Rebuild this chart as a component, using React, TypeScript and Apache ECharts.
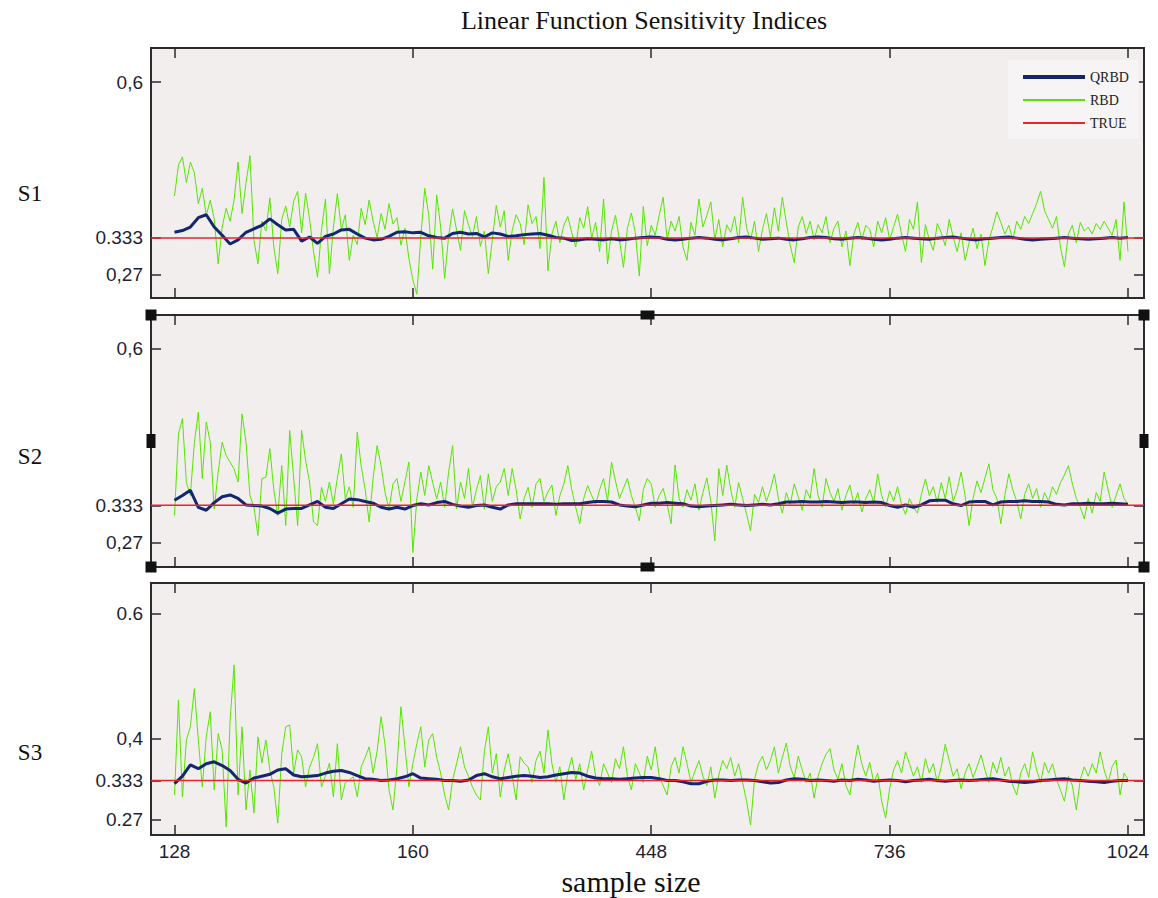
import React, { useEffect, useRef } from 'react';
import * as echarts from 'echarts';

// ---------- data ----------
const xTickValues = [0, 60, 120, 180, 240];
const xTickLabels = ['128', '160', '448', '736', '1024'];
const TRUE_VALUE = 0.3333;

const s1TickValues = [0.27, 0.3333, 0.6];
const s1TickLabels = ['0,27', '0.333', '0,6'];
const s2TickValues = [0.27, 0.3333, 0.6];
const s2TickLabels = ['0,27', '0.333', '0,6'];
const s3TickValues = [0.27, 0.3333, 0.4, 0.6];
const s3TickLabels = ['0.27', '0.333', '0,4', '0.6'];

const panelNames = ['S1', 'S2', 'S3'];

// RBD (green) — one value per step
const s1RBD = [
  0.405, 0.458, 0.472, 0.428, 0.463, 0.445, 0.392, 0.418, 0.372, 0.398,
  0.366, 0.289, 0.352, 0.384, 0.362, 0.398, 0.463, 0.375, 0.427, 0.474,
  0.33, 0.289, 0.362, 0.345, 0.402, 0.318, 0.272, 0.365, 0.388, 0.352,
  0.396, 0.413, 0.342, 0.41, 0.366, 0.31, 0.266, 0.346, 0.4, 0.272,
  0.352, 0.409, 0.348, 0.373, 0.295, 0.338, 0.322, 0.384, 0.356, 0.398,
  0.362, 0.334, 0.375, 0.348, 0.392, 0.357, 0.368, 0.321, 0.35, 0.298,
  0.262, 0.237, 0.335, 0.418, 0.372, 0.28, 0.407, 0.352, 0.264, 0.336,
  0.383, 0.347, 0.312, 0.38, 0.356, 0.336, 0.37, 0.319, 0.345, 0.272,
  0.33, 0.389, 0.352, 0.38, 0.295, 0.346, 0.373, 0.358, 0.322, 0.39,
  0.358, 0.37, 0.315, 0.437, 0.277, 0.34, 0.362, 0.325, 0.355, 0.37,
  0.342, 0.318, 0.368, 0.35, 0.387, 0.333, 0.36, 0.31, 0.4, 0.289,
  0.345, 0.372, 0.33, 0.283, 0.35, 0.376, 0.342, 0.268, 0.387, 0.32,
  0.355, 0.338, 0.372, 0.403, 0.33, 0.362, 0.345, 0.37, 0.318, 0.295,
  0.36, 0.338, 0.4, 0.352, 0.372, 0.395, 0.33, 0.365, 0.318, 0.356,
  0.343, 0.37, 0.325, 0.403, 0.35, 0.33, 0.362, 0.31, 0.348, 0.375,
  0.335, 0.385, 0.345, 0.403, 0.36, 0.32, 0.291, 0.352, 0.37, 0.341,
  0.362, 0.33, 0.356, 0.342, 0.37, 0.325, 0.35, 0.362, 0.318, 0.345,
  0.286, 0.34, 0.36, 0.33, 0.355, 0.348, 0.318, 0.362, 0.342, 0.368,
  0.33, 0.352, 0.374, 0.34, 0.31, 0.365, 0.348, 0.395, 0.291, 0.356,
  0.33, 0.312, 0.358, 0.342, 0.32, 0.365, 0.335, 0.31, 0.342, 0.295,
  0.325, 0.35, 0.315, 0.34, 0.286, 0.33, 0.352, 0.378, 0.36, 0.34,
  0.355, 0.33, 0.362, 0.348, 0.37, 0.358, 0.375, 0.392, 0.413, 0.38,
  0.365, 0.35, 0.37, 0.318, 0.284, 0.34, 0.355, 0.325, 0.36, 0.345,
  0.352, 0.34, 0.358, 0.348, 0.362, 0.35, 0.338, 0.365, 0.295, 0.395,
  0.31,
];

const s2RBD = [
  0.316, 0.455, 0.481, 0.372, 0.35, 0.44, 0.492, 0.379, 0.475, 0.441,
  0.327, 0.39, 0.441, 0.418, 0.407, 0.395, 0.373, 0.489, 0.441, 0.35,
  0.33, 0.282, 0.379, 0.381, 0.43, 0.36, 0.316, 0.401, 0.299, 0.461,
  0.38, 0.299, 0.461, 0.41, 0.373, 0.305, 0.299, 0.364, 0.34, 0.373,
  0.335, 0.38, 0.421, 0.344, 0.365, 0.33, 0.458, 0.4, 0.36, 0.305,
  0.38, 0.435, 0.401, 0.355, 0.327, 0.37, 0.379, 0.34, 0.373, 0.407,
  0.253, 0.344, 0.39, 0.35, 0.401, 0.372, 0.344, 0.373, 0.33, 0.39,
  0.435, 0.327, 0.373, 0.345, 0.396, 0.33, 0.36, 0.384, 0.327, 0.387,
  0.34, 0.365, 0.373, 0.396, 0.35, 0.396, 0.36, 0.31, 0.345, 0.364,
  0.33, 0.37, 0.379, 0.34, 0.356, 0.368, 0.316, 0.35, 0.37, 0.401,
  0.36, 0.33, 0.302, 0.345, 0.367, 0.35, 0.335, 0.36, 0.379, 0.34,
  0.407, 0.375, 0.345, 0.362, 0.379, 0.35, 0.33, 0.307, 0.36, 0.379,
  0.37, 0.33, 0.35, 0.362, 0.335, 0.302, 0.402, 0.345, 0.33, 0.36,
  0.342, 0.37, 0.325, 0.355, 0.38, 0.34, 0.273, 0.396, 0.35, 0.402,
  0.36, 0.33, 0.372, 0.345, 0.318, 0.29, 0.352, 0.338, 0.365, 0.34,
  0.36, 0.387, 0.345, 0.32, 0.355, 0.335, 0.37, 0.348, 0.325, 0.36,
  0.345, 0.396, 0.35, 0.33, 0.379, 0.355, 0.34, 0.362, 0.325, 0.35,
  0.368, 0.335, 0.355, 0.322, 0.345, 0.36, 0.338, 0.387, 0.35, 0.33,
  0.358, 0.34, 0.365, 0.335, 0.318, 0.345, 0.33, 0.32, 0.352, 0.378,
  0.35, 0.365, 0.338, 0.372, 0.345, 0.382, 0.34, 0.36, 0.39, 0.35,
  0.299, 0.345, 0.375, 0.355, 0.38, 0.404, 0.36, 0.345, 0.302, 0.35,
  0.387, 0.36, 0.34, 0.31, 0.352, 0.37, 0.345, 0.362, 0.33, 0.355,
  0.34, 0.365, 0.352, 0.372, 0.385, 0.401, 0.37, 0.345, 0.33, 0.31,
  0.345, 0.32, 0.355, 0.34, 0.39, 0.36, 0.33, 0.35, 0.37, 0.345,
  0.335,
];

const s3RBD = [
  0.31, 0.462, 0.307, 0.398, 0.419, 0.48, 0.398, 0.323, 0.403, 0.443,
  0.318, 0.408, 0.382, 0.259, 0.43, 0.518, 0.31, 0.419, 0.286, 0.35,
  0.281, 0.403, 0.361, 0.398, 0.35, 0.323, 0.265, 0.376, 0.419, 0.422,
  0.345, 0.382, 0.371, 0.323, 0.355, 0.37, 0.392, 0.323, 0.34, 0.361,
  0.307, 0.392, 0.302, 0.33, 0.334, 0.339, 0.307, 0.355, 0.37, 0.387,
  0.345, 0.38, 0.435, 0.39, 0.318, 0.286, 0.355, 0.451, 0.387, 0.323,
  0.36, 0.392, 0.419, 0.355, 0.398, 0.408, 0.37, 0.345, 0.31, 0.286,
  0.334, 0.36, 0.387, 0.355, 0.34, 0.323, 0.31, 0.302, 0.38, 0.419,
  0.345, 0.376, 0.307, 0.35, 0.376, 0.34, 0.302, 0.371, 0.361, 0.355,
  0.33, 0.365, 0.38, 0.345, 0.414, 0.36, 0.33, 0.355, 0.302, 0.345,
  0.37, 0.335, 0.36, 0.318, 0.35, 0.38, 0.34, 0.325, 0.36, 0.345,
  0.33, 0.368, 0.352, 0.387, 0.34, 0.318, 0.36, 0.345, 0.33, 0.372,
  0.35, 0.387, 0.34, 0.325, 0.31, 0.355, 0.37, 0.345, 0.387, 0.36,
  0.33, 0.348, 0.365, 0.34, 0.325, 0.355, 0.305, 0.342, 0.365, 0.352,
  0.37, 0.34, 0.36, 0.33, 0.3, 0.262, 0.335, 0.36, 0.372, 0.35,
  0.365, 0.387, 0.345, 0.37, 0.393, 0.355, 0.338, 0.372, 0.35, 0.33,
  0.345, 0.305, 0.34, 0.36, 0.375, 0.384, 0.35, 0.335, 0.36, 0.325,
  0.31, 0.352, 0.39, 0.36, 0.34, 0.362, 0.33, 0.345, 0.3, 0.273,
  0.32, 0.35, 0.365, 0.345, 0.379, 0.36, 0.34, 0.355, 0.33, 0.368,
  0.345, 0.36, 0.33, 0.355, 0.391, 0.365, 0.34, 0.352, 0.32, 0.345,
  0.36, 0.338, 0.355, 0.374, 0.35, 0.33, 0.362, 0.345, 0.37, 0.34,
  0.355, 0.325, 0.31, 0.345, 0.36, 0.338, 0.379, 0.35, 0.33, 0.362,
  0.345, 0.36, 0.335, 0.318, 0.3, 0.34, 0.325, 0.286, 0.335, 0.355,
  0.34, 0.36, 0.345, 0.379, 0.35, 0.33, 0.355, 0.366, 0.31, 0.345,
  0.335,
];

// QRBD (navy) — one value every second step
const s1QRBD = [
  0.343, 0.346, 0.352, 0.368, 0.373, 0.352, 0.338, 0.323, 0.330, 0.343,
  0.349, 0.355, 0.366, 0.356, 0.347, 0.348, 0.328, 0.335, 0.324, 0.336,
  0.340, 0.347, 0.348, 0.340, 0.333, 0.330, 0.331, 0.336, 0.343, 0.344,
  0.342, 0.343, 0.337, 0.334, 0.333, 0.341, 0.343, 0.340, 0.341, 0.335,
  0.342, 0.340, 0.336, 0.337, 0.339, 0.340, 0.341, 0.338, 0.334, 0.333,
  0.329, 0.330, 0.332, 0.331, 0.330, 0.332, 0.330, 0.331, 0.333, 0.334,
  0.335, 0.334, 0.331, 0.330, 0.331, 0.333, 0.334, 0.333, 0.331, 0.330,
  0.332, 0.334, 0.335, 0.333, 0.331, 0.332, 0.333, 0.331, 0.330, 0.332,
  0.334, 0.335, 0.334, 0.332, 0.331, 0.333, 0.334, 0.333, 0.331, 0.330,
  0.331, 0.333, 0.334, 0.333, 0.332, 0.331, 0.333, 0.334, 0.335, 0.333,
  0.331, 0.330, 0.332, 0.333, 0.334, 0.335, 0.333, 0.331, 0.330, 0.331,
  0.332, 0.333, 0.334, 0.333, 0.332, 0.331, 0.332, 0.333, 0.334, 0.333,
  0.334,
];

const s2QRBD = [
  0.342, 0.350, 0.359, 0.330, 0.325, 0.338, 0.348, 0.351, 0.345, 0.334,
  0.333, 0.332, 0.328, 0.320, 0.327, 0.328, 0.328, 0.334, 0.340, 0.330,
  0.328, 0.336, 0.344, 0.343, 0.340, 0.337, 0.330, 0.327, 0.330, 0.327,
  0.333, 0.336, 0.334, 0.338, 0.340, 0.335, 0.332, 0.330, 0.333, 0.334,
  0.330, 0.327, 0.334, 0.336, 0.336, 0.336, 0.336, 0.336, 0.335, 0.336,
  0.336, 0.336, 0.338, 0.340, 0.340, 0.339, 0.334, 0.332, 0.331, 0.334,
  0.337, 0.337, 0.338, 0.337, 0.336, 0.332, 0.331, 0.332, 0.333, 0.334,
  0.335, 0.334, 0.333, 0.334, 0.335, 0.334, 0.336, 0.339, 0.339, 0.340,
  0.339, 0.339, 0.340, 0.339, 0.338, 0.339, 0.339, 0.338, 0.339, 0.338,
  0.333, 0.330, 0.334, 0.330, 0.334, 0.341, 0.342, 0.342, 0.336, 0.333,
  0.339, 0.340, 0.340, 0.334, 0.339, 0.340, 0.340, 0.341, 0.340, 0.340,
  0.339, 0.335, 0.334, 0.336, 0.336, 0.337, 0.336, 0.336, 0.337, 0.336,
  0.335,
];

const s3QRBD = [
  0.328, 0.340, 0.358, 0.352, 0.360, 0.363, 0.357, 0.349, 0.335, 0.329,
  0.337, 0.340, 0.343, 0.350, 0.352, 0.342, 0.339, 0.340, 0.341, 0.345,
  0.348, 0.349, 0.346, 0.341, 0.336, 0.335, 0.333, 0.334, 0.336, 0.339,
  0.344, 0.337, 0.336, 0.335, 0.333, 0.333, 0.332, 0.334, 0.341, 0.344,
  0.339, 0.336, 0.338, 0.340, 0.341, 0.340, 0.338, 0.339, 0.342, 0.344,
  0.346, 0.345, 0.340, 0.337, 0.336, 0.336, 0.335, 0.336, 0.337, 0.338,
  0.338, 0.336, 0.333, 0.333, 0.331, 0.328, 0.328, 0.332, 0.334, 0.334,
  0.333, 0.334, 0.334, 0.333, 0.331, 0.329, 0.330, 0.334, 0.336, 0.335,
  0.333, 0.334, 0.333, 0.332, 0.334, 0.333, 0.335, 0.334, 0.332, 0.333,
  0.334, 0.333, 0.331, 0.333, 0.334, 0.335, 0.333, 0.332, 0.333, 0.334,
  0.333, 0.334, 0.335, 0.336, 0.334, 0.332, 0.331, 0.330, 0.331, 0.333,
  0.334, 0.335, 0.336, 0.334, 0.333, 0.332, 0.331, 0.330, 0.332, 0.333,
  0.333,
];

// ---------- layout / style ----------
const GREEN = '#55e600';
const NAVY = '#13266e';
const RED = '#e8252b';
const BG = '#f2eeee';
const FRAME = '#2b2b2b';
const LABEL = '#1f1f33';
const SERIF = '"Liberation Serif", "Times New Roman", serif';
const SANS = '"Liberation Sans", Arial, sans-serif';

const X_MIN = -5.91;
const X_MAX = 244.03;
const GRID_LEFT = 151;
const GRID_WIDTH = 993;
const grids = [
  { top: 48, height: 250 },
  { top: 315, height: 252 },
  { top: 583, height: 252 },
];
const yRanges = [
  [0.2306, 0.6582],
  [0.2283, 0.6575],
  [0.246, 0.6489],
];

const panels = [
  { rbd: s1RBD, qrbd: s1QRBD, ticks: s1TickValues, labels: s1TickLabels },
  { rbd: s2RBD, qrbd: s2QRBD, ticks: s2TickValues, labels: s2TickLabels },
  { rbd: s3RBD, qrbd: s3QRBD, ticks: s3TickValues, labels: s3TickLabels },
];

function buildOption(): any {
  const tickStyle = { color: FRAME, width: 1.5 };
  const xAxes: any[] = [];
  const yAxes: any[] = [];
  const series: any[] = [];

  panels.forEach((p, k) => {
    const xFmt = (v: number) => {
      const idx = xTickValues.indexOf(Math.round(v));
      return idx >= 0 ? xTickLabels[idx] : '';
    };
    const yFmt = (v: number) => {
      const idx = p.ticks.findIndex((t) => Math.abs(t - v) < 1e-6);
      return idx >= 0 ? p.labels[idx] : '';
    };
    ['bottom', 'top'].forEach((pos) => {
      xAxes.push({
        type: 'value',
        gridIndex: k,
        position: pos,
        min: X_MIN,
        max: X_MAX,
        axisLine: { show: false, onZero: false },
        splitLine: { show: false },
        axisTick: { show: true, inside: true, length: 10, customValues: xTickValues, lineStyle: tickStyle },
        axisLabel: {
          show: k === 2 && pos === 'bottom',
          customValues: xTickValues,
          formatter: xFmt,
          fontFamily: SANS,
          fontSize: 19,
          color: LABEL,
          margin: 7,
        },
      });
    });
    ['left', 'right'].forEach((pos) => {
      yAxes.push({
        type: 'value',
        gridIndex: k,
        position: pos,
        min: yRanges[k][0],
        max: yRanges[k][1],
        axisLine: { show: false, onZero: false },
        splitLine: { show: false },
        axisTick: { show: true, inside: true, length: 10, customValues: p.ticks, lineStyle: tickStyle },
        axisLabel: {
          show: pos === 'left',
          customValues: p.ticks,
          formatter: yFmt,
          fontFamily: SANS,
          fontSize: 19,
          color: LABEL,
          margin: 8,
        },
      });
    });

    const xi = k * 2;
    const yi = k * 2;
    series.push({
      name: 'RBD',
      type: 'line',
      xAxisIndex: xi,
      yAxisIndex: yi,
      data: p.rbd.map((v, i) => [i, v]),
      symbol: 'none',
      lineStyle: { color: GREEN, width: 1 },
      itemStyle: { color: GREEN },
      z: 2,
    });
    series.push({
      name: 'QRBD',
      type: 'line',
      xAxisIndex: xi,
      yAxisIndex: yi,
      data: p.qrbd.map((v, j) => [j * 2, v]),
      symbol: 'none',
      lineStyle: { color: NAVY, width: 3 },
      itemStyle: { color: NAVY },
      z: 3,
    });
    series.push({
      name: 'TRUE',
      type: 'line',
      xAxisIndex: xi,
      yAxisIndex: yi,
      data: [
        [X_MIN, TRUE_VALUE],
        [X_MAX, TRUE_VALUE],
      ],
      symbol: 'none',
      lineStyle: { color: RED, width: 1.5 },
      itemStyle: { color: RED },
      z: 4,
    });
  });

  const gridOpts = grids.map((g) => ({
    left: GRID_LEFT,
    width: GRID_WIDTH,
    top: g.top,
    height: g.height,
    show: true,
    backgroundColor: BG,
    borderColor: FRAME,
    borderWidth: 2,
    containLabel: false,
  }));

  // selection handles around panel 2
  const g2 = grids[1];
  const L = GRID_LEFT;
  const R = GRID_LEFT + GRID_WIDTH;
  const M = (L + R) / 2;
  const T = g2.top;
  const B = g2.top + g2.height;
  const C = (T + B) / 2;
  const hs: any[] = [];
  const addH = (cx: number, cy: number, w: number, h: number) =>
    hs.push({ type: 'rect', shape: { x: cx - w / 2, y: cy - h / 2, width: w, height: h }, style: { fill: '#111' }, z: 100 });
  addH(L, T, 11, 11);
  addH(M, T, 14, 9);
  addH(R, T, 11, 11);
  addH(L, C, 9, 14);
  addH(R, C, 9, 14);
  addH(L, B, 11, 11);
  addH(M, B, 14, 9);
  addH(R, B, 11, 11);

  const panelLabelY = [193, 456, 752];
  const texts: any[] = [
    {
      type: 'text',
      x: 644,
      y: 20,
      style: { text: 'Linear Function Sensitivity Indices', font: `26px ${SERIF}`, fill: '#111', align: 'center', verticalAlign: 'middle' },
    },
    {
      type: 'text',
      x: 631,
      y: 881,
      style: { text: 'sample size', font: `30px ${SERIF}`, fill: '#111', align: 'center', verticalAlign: 'middle' },
    },
    ...panelNames.map((n, k) => ({
      type: 'text',
      x: 30,
      y: panelLabelY[k],
      style: { text: n, font: `23px ${SERIF}`, fill: '#111', align: 'center', verticalAlign: 'middle' },
    })),
  ];

  return {
    animation: false,
    backgroundColor: '#ffffff',
    grid: gridOpts,
    xAxis: xAxes,
    yAxis: yAxes,
    legend: {
      data: [
        { name: 'QRBD', lineStyle: { width: 4 } },
        { name: 'RBD', lineStyle: { width: 2 } },
        { name: 'TRUE', lineStyle: { width: 2 } },
      ],
      orient: 'vertical',
      left: 1008,
      top: 60,
      padding: [10, 10, 9, 13],
      backgroundColor: '#f6f4f4',
      itemWidth: 62,
      itemHeight: 14,
      itemGap: 9,
      itemStyle: { opacity: 0 },
      textStyle: { fontFamily: SERIF, fontSize: 14, color: '#222' },
    },
    series,
    graphic: [...texts, ...hs],
  };
}

export default function App() {
  const ref = useRef<HTMLDivElement>(null);
  useEffect(() => {
    if (!ref.current) return;
    const chart = echarts.init(ref.current, undefined, { renderer: 'svg' });
    chart.setOption(buildOption());
    return () => chart.dispose();
  }, []);
  return (
    <div
      ref={ref}
      style={{ position: 'fixed', left: 0, top: 0, width: 1158, height: 898, background: '#fff' }}
    />
  );
}
